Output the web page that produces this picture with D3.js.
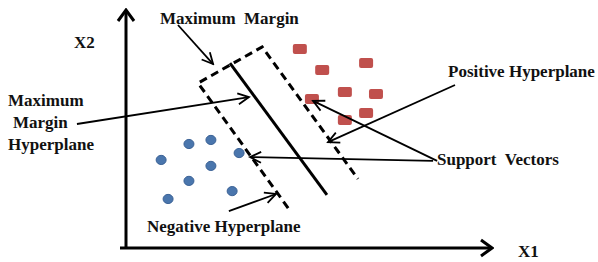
<!DOCTYPE html>
<html>
<head>
<meta charset="utf-8">
<script src="https://cdn.jsdelivr.net/npm/d3@7"></script>
<style>
  body { margin: 0; background: #fff; }
</style>
</head>
<body>
<div id="chart"></div>
<script>
var width = 598;
var height = 262;

// class +1 points (x1, x2)
var positiveX1 = [4.75, 5.36, 6.56, 5.98, 6.83, 5.08, 6.56, 5.98];
var positiveX2 = [8.36, 7.48, 7.77, 6.55, 6.47, 6.26, 5.67, 5.38];
// class -1 points (x1, x2)
var negativeX1 = [0.96, 1.72, 2.32, 3.09, 2.32, 1.72, 2.90, 1.15];
var negativeX2 = [3.70, 4.37, 4.54, 3.99, 3.45, 2.82, 2.39, 2.06];

// separating hyperplane, and the margin (neg -> corner -> corner -> pos)
var hyperplane = [[2.84, 7.77], [5.49, 2.23]];
var marginBox = [[4.43, 1.68], [1.97, 6.93], [3.72, 8.45], [6.34, 2.90]];

// annotation pointers: from -> to
var pointers = [
  [[1.42, 9.37], [2.38, 7.73]],
  [[-1.34, 5.21], [3.36, 6.34]],
  [[8.99, 6.85], [5.52, 4.45]],
  [[8.50, 3.66], [5.11, 6.18]],
  [[8.39, 3.66], [3.39, 3.82]],
  [[2.81, 1.55], [4.10, 2.27]]
];

var labels = ['Maximum\u00a0 Margin', 'X2', 'Maximum', 'Margin', 'Hyperplane',
              'Positive Hyperplane', 'Support\u00a0 Vectors', 'Negative Hyperplane', 'X1'];

var svg = d3.select('#chart').append('svg')
    .attr('width', width)
    .attr('height', height);

var x = d3.scaleLinear().domain([0, 10]).range([126, 492]);
var y = d3.scaleLinear().domain([0, 10]).range([248, 10]);

function arrowMarker(id, len, half, sw) {
  svg.append('defs').append('marker')
      .attr('id', id)
      .attr('viewBox', (-len - 2) + ' ' + (-half - 2) + ' ' + (len + 4) + ' ' + (2 * half + 4))
      .attr('refX', 0)
      .attr('refY', 0)
      .attr('markerUnits', 'userSpaceOnUse')
      .attr('markerWidth', len + 4)
      .attr('markerHeight', 2 * half + 4)
      .attr('orient', 'auto')
    .append('path')
      .attr('d', 'M' + (-len) + ',' + (-half) + 'L0,0L' + (-len) + ',' + half)
      .attr('fill', 'none')
      .attr('stroke', '#000')
      .attr('stroke-width', sw);
}
arrowMarker('axisHead', 11, 8, 3);
arrowMarker('ptrHead', 11, 5.5, 1.8);

var line = d3.line().x(function (d) { return x(d[0]); }).y(function (d) { return y(d[1]); });

// axes
svg.append('line')
    .attr('x1', x(0)).attr('y1', y(0) + 1)
    .attr('x2', x(0)).attr('y2', y(10))
    .attr('stroke', '#000').attr('stroke-width', 3)
    .attr('marker-end', 'url(#axisHead)');
svg.append('line')
    .attr('x1', x(0) - 6).attr('y1', y(0))
    .attr('x2', x(10)).attr('y2', y(0))
    .attr('stroke', '#000').attr('stroke-width', 3)
    .attr('marker-end', 'url(#axisHead)');

// margin and hyperplane
svg.append('path')
    .attr('d', line(marginBox))
    .attr('fill', 'none')
    .attr('stroke', '#000')
    .attr('stroke-width', 3)
    .attr('stroke-dasharray', '8,5');
svg.append('path')
    .attr('d', line(hyperplane))
    .attr('fill', 'none')
    .attr('stroke', '#000')
    .attr('stroke-width', 3);

// points
svg.selectAll('rect.pos')
    .data(d3.range(positiveX1.length))
    .enter().append('rect')
      .attr('class', 'pos')
      .attr('x', function (i) { return x(positiveX1[i]) - 7; })
      .attr('y', function (i) { return y(positiveX2[i]) - 5; })
      .attr('width', 14)
      .attr('height', 10)
      .attr('rx', 2)
      .attr('fill', '#c0504d');

svg.selectAll('ellipse.neg')
    .data(d3.range(negativeX1.length))
    .enter().append('ellipse')
      .attr('class', 'neg')
      .attr('cx', function (i) { return x(negativeX1[i]); })
      .attr('cy', function (i) { return y(negativeX2[i]); })
      .attr('rx', 5)
      .attr('ry', 4.6)
      .attr('fill', '#4a76ad')
      .attr('stroke', '#3b6296')
      .attr('stroke-width', 1);

// pointers
svg.selectAll('path.ptr')
    .data(pointers)
    .enter().append('path')
      .attr('class', 'ptr')
      .attr('d', line)
      .attr('fill', 'none')
      .attr('stroke', '#000')
      .attr('stroke-width', 1.8)
      .attr('marker-end', 'url(#ptrHead)');

// text
function print(text, px, py) {
  svg.append('text')
      .attr('x', px)
      .attr('y', py)
      .style('font-family', '"Liberation Serif", "Times New Roman", serif')
      .style('font-weight', 'bold')
      .style('font-size', '17px')
      .style('fill', '#111')
      .text(text);
}
print(labels[0], 160, 24);
print(labels[1], 74, 48);
print(labels[2], 8, 106);
print(labels[3], 13, 128);
print(labels[4], 8, 150);
print(labels[5], 448, 77);
print(labels[6], 437, 165);
print(labels[7], 147, 232);
print(labels[8], 518, 257);
</script>
</body>
</html>
